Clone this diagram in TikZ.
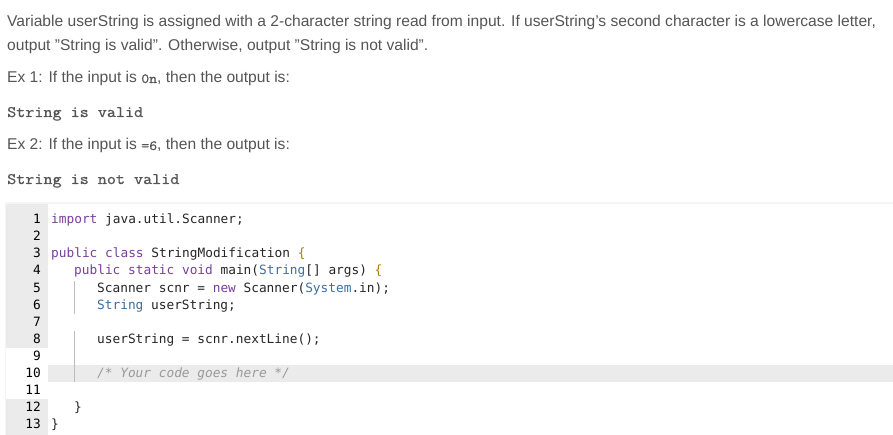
\documentclass[tikz,border=0pt]{standalone}
\usepackage{fontspec}
\setmainfont{Liberation Sans}
\newfontfamily\codefont{DejaVu Sans Mono}
\newfontfamily\outfont[FakeStretch=1.1,FakeBold=1]{Latin Modern Mono}
\definecolor{txt}{HTML}{555555}
\definecolor{kw}{HTML}{7A3E9D}
\definecolor{ty}{HTML}{3A6FA0}
\definecolor{br}{HTML}{B08000}
\definecolor{gut}{HTML}{EBEBEB}
\definecolor{cm}{HTML}{999999}
\begin{document}
\begin{tikzpicture}[x=1pt,y=-1pt,
  para/.style={anchor=base west,inner sep=0,text=txt,font=\fontsize{15.6}{17}\selectfont},
  outp/.style={anchor=base west,inner sep=0,text=txt,font=\outfont\fontsize{16}{17}\selectfont},
  num/.style={anchor=base east,inner sep=0,font=\codefont\fontsize{12.8}{15}\selectfont},
  code/.style={anchor=base west,inner sep=0,text=black!85,font=\codefont\fontsize{12.8}{15}\selectfont}]
\useasboundingbox[fill=white] (0,0) rectangle (893,435);
\node[para] (p1) at (7,27) {Variable userString is assigned with a 2-character string read from input. If userString's second character is a lowercase letter,};
\node[para] (p2) at (7,51) {output "String is valid". Otherwise, output "String is not valid".};
\node[para] (e1) at (7,83) {Ex 1: If the input is {\outfont\fontsize{14}{17}\selectfont 0n}, then the output is:};
\node[outp] (o1) at (7,117) {String is valid};
\node[para] (e2) at (7,150) {Ex 2: If the input is {\outfont\fontsize{14}{17}\selectfont =6}, then the output is:};
\node[outp] (o2) at (7,184) {String is not valid};
% code panel
\fill[gray!8] (5,202) rectangle (893,435);
\fill[white] (48,204) rectangle (893,435);
\fill[gut] (6,204) rectangle (48,348);
\fill[white] (6,348) rectangle (48,399);
\fill[gut] (6,399) rectangle (48,435);
\fill[gut] (48,365) rectangle (893,382);
\draw[gut!80!black,line width=0.5] (74,281) -- (74,314) (74,331) -- (74,382);
\foreach \i in {1,...,13}{\node[num] (n\i) at (41,207+17*\i) {\i};}
\node[code] (c1) at (51,224) {\textcolor{kw}{import} java.util.Scanner;};
\node[code] (c3) at (51,258) {\textcolor{kw}{public class} StringModification \textcolor{br}{\{}};
\node[code] (c4) at (74,275) {\textcolor{kw}{public static void} main(\textcolor{ty}{String}[] args) \textcolor{br}{\{}};
\node[code] (c5) at (97,292) {Scanner scnr = \textcolor{kw}{new} Scanner(\textcolor{ty}{System}.in);};
\node[code] (c6) at (97,309) {\textcolor{ty}{String} userString;};
\node[code] (c8) at (97,343) {userString = scnr.nextLine();};
\node[code,text=cm] (c10) at (97,377) {\itshape /* Your code goes here */};
\node[code] (c12) at (74,411) {\}};
\node[code] (c13) at (51,428) {\}};
\end{tikzpicture}
\end{document}
